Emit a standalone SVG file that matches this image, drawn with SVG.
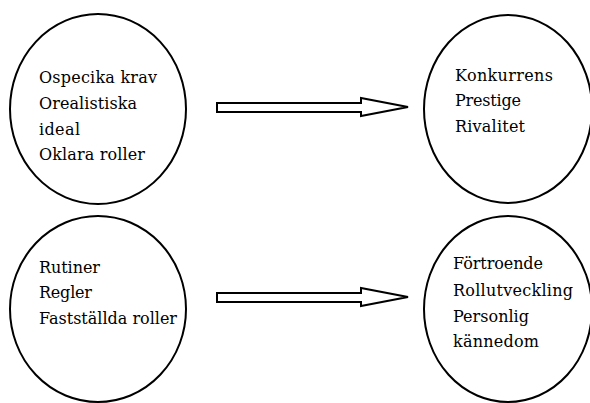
<svg xmlns="http://www.w3.org/2000/svg" width="590" height="403" viewBox="0 0 590 403">
<style>
.n{fill:#fff;stroke:#000;stroke-width:2}
.a{fill:#fff;stroke:#000;stroke-width:2;stroke-linejoin:miter}
text{font-family:"DejaVu Serif","Liberation Serif",serif;font-size:16px;fill:#000}
</style>
<rect width="590" height="403" fill="#fff"/>
<g id="n1"><ellipse class="n" cx="98" cy="109" rx="88" ry="95"/>
<text x="39" y="83" textLength="118">Ospecika krav</text><text x="39" y="109" textLength="98">Orealistiska</text><text x="39" y="135" textLength="41">ideal</text><text x="39" y="160" textLength="106">Oklara roller</text></g>
<g id="n2"><ellipse class="n" cx="508" cy="109" rx="84" ry="94"/>
<text x="455" y="81" textLength="98">Konkurrens</text><text x="455" y="106" textLength="66">Prestige</text><text x="455" y="132" textLength="70">Rivalitet</text></g>
<g id="n3"><ellipse class="n" cx="98" cy="309" rx="88" ry="93"/>
<text x="39" y="273" textLength="61">Rutiner</text><text x="39" y="298" textLength="53">Regler</text><text x="39" y="324" textLength="138">Fastställda roller</text></g>
<g id="n4"><ellipse class="n" cx="508" cy="309" rx="84" ry="93"/>
<text x="453" y="269" textLength="90">Förtroende</text><text x="453" y="296" textLength="120">Rollutveckling</text><text x="453" y="322" textLength="76">Personlig</text><text x="453" y="347" textLength="86">kännedom</text></g>
<g id="connectors">
<path class="a" d="M217 103H361V98L408 107L361 116V112H217Z"/>
<path class="a" d="M217 293H361V288L408 297L361 306V302H217Z"/>
</g>
</svg>
